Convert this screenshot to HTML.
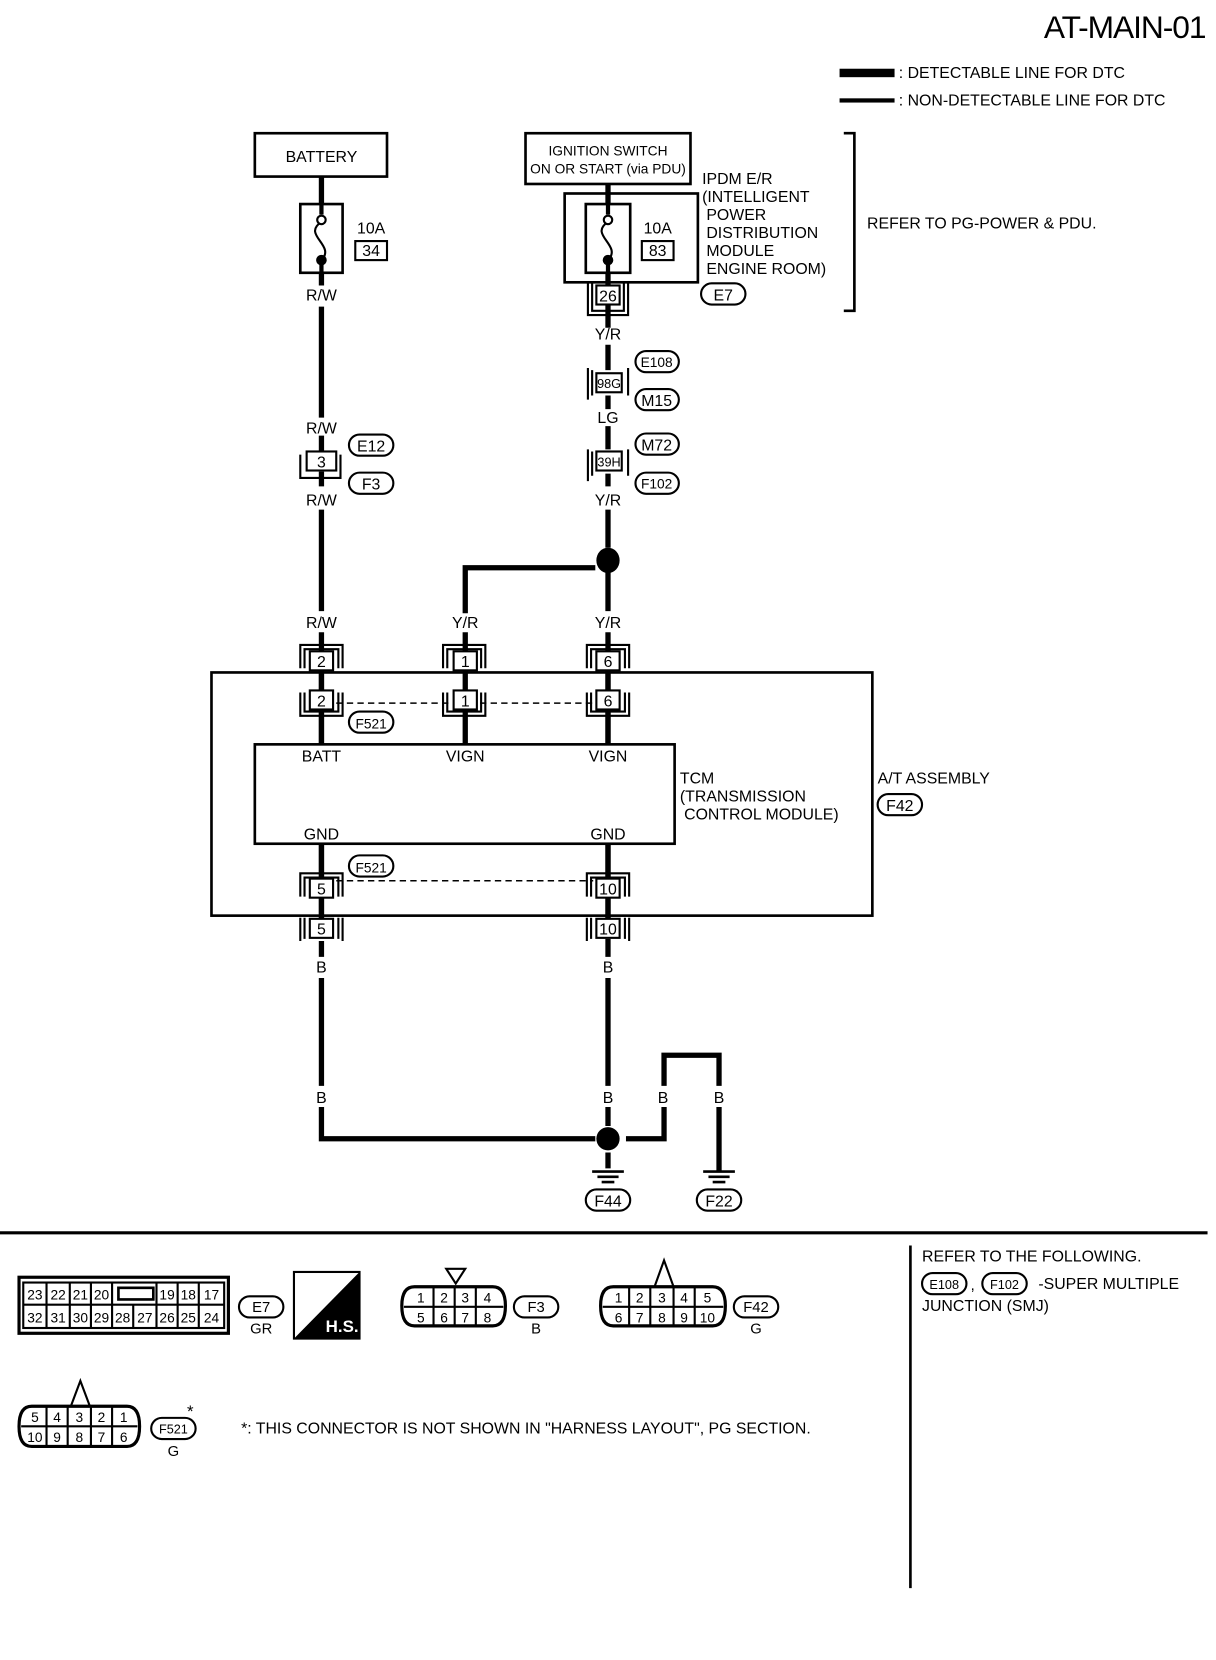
<!DOCTYPE html>
<html><head><meta charset="utf-8"><style>
html,body{margin:0;padding:0;background:#fff;}
svg{display:block;}
text{font-family:"Liberation Sans",sans-serif;fill:#000;}
</style></head><body>
<svg width="1216" height="1660" viewBox="0 0 1150 1570" preserveAspectRatio="none" xmlns="http://www.w3.org/2000/svg">
<rect width="1150" height="1570" fill="#fff"/>
<text x="1140" y="36" font-size="30" text-anchor="end" letter-spacing="-1">AT-MAIN-01</text>
<rect x="794" y="65" width="52" height="8" fill="#000"/>
<text x="850" y="74" font-size="15">: DETECTABLE LINE FOR DTC</text>
<rect x="794" y="93" width="52" height="4" fill="#000"/>
<text x="850" y="100" font-size="15">: NON-DETECTABLE LINE FOR DTC</text>

<g fill="none" stroke="#000">
<path d="M304 167V193M304 258V270M304 290V395M304 412V428M304 446V460M304 482V578M304 598V875M304 890V905M304 925V1027M304 1047V1077H563M592 1077H628V1047M628 1027V998H680V1027M680 1047V1108M575 1065V1047M575 925V1027M575 888V905M575 598V875M575 540V578M575 482V518M440 580V537H563M575 268V310M575 326V350M575 374V387M575 403V425M575 448V460M575 1090V1105" stroke-width="5"/>
<path d="M575 174V193M575 258V268M304 618V708M440 598V708M575 618V708M304 798V870M575 798V870" stroke-width="5"/>
<rect x="241" y="126" width="125" height="41" stroke-width="2.5"/>
<rect x="497" y="126" width="156" height="48" stroke-width="2.5"/>
<rect x="534" y="183" width="126" height="84" stroke-width="2.5"/>
<rect x="284" y="193" width="40" height="65" stroke-width="2.5" fill="#fff"/>
<rect x="554" y="193" width="42" height="65" stroke-width="2.5" fill="#fff"/>
<rect x="336" y="228" width="30" height="18" stroke-width="2"/>
<rect x="607" y="228" width="30" height="18" stroke-width="2"/>
<path d="M798 126H808V294H798" stroke-width="2.5"/>
<rect x="200" y="636" width="625" height="230" stroke-width="2.5"/>
<rect x="241" y="704" width="397" height="94" stroke-width="2.5" fill="#fff"/>
<path d="M304 193V203M304 248V258M575 193V203M575 248V258" stroke-width="4"/>
<path d="M304 210C285 222 318 232 304 246M575 210C556 222 589 232 575 246" stroke-width="2"/>
<path d="M318 665H426M454 665H561M318 833H561" stroke-width="1.5" stroke-dasharray="6,4"/>
<path d="M560 1108H590M565 1113H585M569 1118H581M665 1108H695M670 1113H690M674 1118H686" stroke-width="2.5"/>
<path d="M0 1166H1142" stroke-width="3"/>
<path d="M861 1178V1502" stroke-width="2.5"/>
</g>
<circle cx="304" cy="208" r="4" fill="#fff" stroke="#000" stroke-width="2"/>
<circle cx="304" cy="246" r="5" fill="#000"/>
<circle cx="575" cy="208" r="4" fill="#fff" stroke="#000" stroke-width="2"/>
<circle cx="575" cy="246" r="5" fill="#000"/>
<ellipse cx="575" cy="530" rx="11" ry="12" fill="#000"/>
<ellipse cx="575" cy="1077" rx="11" ry="11" fill="#000"/>

<g stroke="#000" fill="#fff" stroke-width="2">
<path fill="none" d="M560 268V294H590V268M556 268V298H594V268"/>
<rect x="564" y="270" width="22" height="18"/>
<path fill="none" d="M556 348V378M560 350V374M594 348V374"/>
<rect x="564" y="353" width="24" height="18"/>
<path fill="none" d="M556 425V455M560 427V450M594 425V450"/>
<rect x="564" y="427" width="24" height="18"/>
<path fill="none" d="M284 430V452H322V430"/>
<rect x="290" y="427" width="28" height="18"/>
<path fill="none" d="M284 632V610H324V632M288 632V614H320V632M419 632V610H459V632M423 632V614H455V632M555 632V610H595V632M559 632V614H591V632"/>
<rect x="293" y="616" width="22" height="18"/><rect x="429" y="616" width="22" height="18"/><rect x="564" y="616" width="22" height="18"/>
<path fill="none" d="M284 655V677H324V655M288 655V673H320V655M419 655V677H459V655M423 655V673H455V655M555 655V677H595V655M559 655V673H591V655"/>
<rect x="293" y="653" width="22" height="18"/><rect x="429" y="653" width="22" height="18"/><rect x="564" y="653" width="22" height="18"/>
<path fill="none" d="M284 848V826H324V848M288 848V830H320V848M555 848V826H595V848M559 848V830H591V848"/>
<rect x="293" y="831" width="22" height="18"/><rect x="564" y="831" width="22" height="18"/>
<path fill="none" d="M284 868V890M324 868V890M288 868V888M320 868V888M555 868V890M595 868V890M559 868V888M591 868V888"/>
<rect x="293" y="869" width="22" height="18"/><rect x="564" y="869" width="22" height="18"/>
</g>
<g font-size="15" text-anchor="middle">
<text x="575" y="285">26</text><text x="576" y="367" font-size="12">98G</text><text x="576" y="441" font-size="12">39H</text><text x="304" y="442">3</text>
<text x="304" y="631">2</text><text x="440" y="631">1</text><text x="575" y="631">6</text>
<text x="304" y="668">2</text><text x="440" y="668">1</text><text x="575" y="668">6</text>
<text x="304" y="846">5</text><text x="575" y="846">10</text>
<text x="304" y="884">5</text><text x="575" y="884">10</text>
<text x="351" y="242">34</text><text x="622" y="242">83</text>
</g>
<g fill="#fff" stroke="#000" stroke-width="2">
<rect x="663" y="268" width="42" height="20" rx="10"/>
<rect x="601" y="332" width="41" height="20" rx="10"/><rect x="601" y="368" width="41" height="20" rx="10"/>
<rect x="601" y="410" width="41" height="20" rx="10"/><rect x="601" y="447" width="41" height="20" rx="10"/>
<rect x="330" y="411" width="42" height="20" rx="10"/><rect x="330" y="447" width="42" height="20" rx="10"/>
<rect x="330" y="673" width="42" height="20" rx="10"/><rect x="330" y="809" width="42" height="20" rx="10"/>
<rect x="830" y="751" width="42" height="20" rx="10"/>
<rect x="554" y="1125" width="42" height="20" rx="10"/><rect x="659" y="1125" width="42" height="20" rx="10"/>
</g>
<g font-size="15" text-anchor="middle">
<text x="684" y="284">E7</text><text x="621" y="347" font-size="13">E108</text><text x="621" y="384">M15</text>
<text x="621" y="426">M72</text><text x="621" y="462" font-size="13">F102</text>
<text x="351" y="427">E12</text><text x="351" y="463">F3</text>
<text x="351" y="689" font-size="13">F521</text><text x="351" y="825" font-size="13">F521</text>
<text x="851" y="767">F42</text><text x="575" y="1141">F44</text><text x="680" y="1141">F22</text>
</g>
<g font-size="15" text-anchor="middle">
<text x="304" y="153">BATTERY</text>
<text x="575" y="147" font-size="13">IGNITION SWITCH</text>
<text x="575" y="164" font-size="13">ON OR START (via PDU)</text>
<text x="351" y="221">10A</text><text x="622" y="221">10A</text>
<text x="304" y="284">R/W</text><text x="304" y="410">R/W</text><text x="304" y="478">R/W</text><text x="304" y="594">R/W</text>
<text x="575" y="321">Y/R</text><text x="575" y="400">LG</text><text x="575" y="478">Y/R</text>
<text x="440" y="594">Y/R</text><text x="575" y="594">Y/R</text>
<text x="304" y="720">BATT</text><text x="440" y="720">VIGN</text><text x="575" y="720">VIGN</text>
<text x="304" y="794">GND</text><text x="575" y="794">GND</text>
<text x="304" y="920">B</text><text x="575" y="920">B</text>
<text x="304" y="1043">B</text><text x="575" y="1043">B</text><text x="627" y="1043">B</text><text x="680" y="1043">B</text>
</g>
<g font-size="15">
<text x="664" y="174">IPDM E/R</text><text x="664" y="191">(INTELLIGENT</text><text x="668" y="208">POWER</text>
<text x="668" y="225">DISTRIBUTION</text><text x="668" y="242">MODULE</text><text x="668" y="259">ENGINE ROOM)</text>
<text x="820" y="216">REFER TO PG-POWER &amp; PDU.</text>
<text x="643" y="741">TCM</text><text x="643" y="758">(TRANSMISSION</text><text x="647" y="775">CONTROL MODULE)</text>
<text x="830" y="741">A/T ASSEMBLY</text>
<text x="872" y="1193">REFER TO THE FOLLOWING.</text>
<text x="982" y="1219">-SUPER MULTIPLE</text>
<text x="872" y="1240">JUNCTION (SMJ)</text>
<text x="228" y="1356">*: THIS CONNECTOR IS NOT SHOWN IN "HARNESS LAYOUT", PG SECTION.</text>
</g>
<g fill="#fff" stroke="#000" stroke-width="2">
<rect x="872" y="1204" width="42" height="20" rx="10"/><rect x="929" y="1204" width="42" height="20" rx="10"/>
</g>
<text x="893" y="1219" font-size="12" text-anchor="middle">E108</text><text x="950" y="1219" font-size="12" text-anchor="middle">F102</text>
<text x="918" y="1220" font-size="14">,</text>

<g stroke="#000" fill="none" stroke-width="2">
<rect x="18" y="1208" width="198" height="53" stroke-width="3"/>
<rect x="22" y="1213" width="190" height="43"/>
<path d="M22 1234H212M44 1213V1256M66 1213V1256M86 1213V1256M106 1234V1256M126 1234V1256M148 1213V1256M168 1213V1256M188 1213V1256M106 1213V1234"/>
<rect x="112" y="1218" width="33" height="11" stroke-width="2.5"/>
<rect x="226" y="1226" width="42" height="20" rx="10"/>
<rect x="278" y="1203" width="62" height="63"/>
<path d="M392 1217H466Q478 1217 478 1235Q478 1254 466 1254H392Q380 1254 380 1235Q380 1217 392 1217Z" stroke-width="3"/>
<path d="M382 1236H476M410 1217V1254M430 1217V1254M450 1217V1254M422 1200H440L431 1214Z"/>
<rect x="486" y="1226" width="42" height="20" rx="10"/>
<path d="M580 1217H674Q686 1217 686 1235Q686 1254 674 1254H580Q568 1254 568 1235Q568 1217 580 1217Z" stroke-width="3"/>
<path d="M570 1236H684M595 1217V1254M615 1217V1254M637 1217V1254M657 1217V1254M619 1217L628 1192L637 1217"/>
<rect x="694" y="1226" width="42" height="20" rx="10"/>
<path d="M30 1330H120Q132 1330 132 1349Q132 1368 120 1368H30Q18 1368 18 1349Q18 1330 30 1330Z" stroke-width="3"/>
<path d="M20 1349H130M44 1330V1368M64 1330V1368M86 1330V1368M106 1330V1368M67 1330L76 1306L85 1330"/>
<rect x="143" y="1341" width="42" height="20" rx="10"/>
</g>
<path d="M340 1203V1266H278Z" fill="#000"/>
<text x="308" y="1260" font-size="16" font-weight="bold" style="fill:#fff">H.S.</text>
<g font-size="13" text-anchor="middle">
<text x="33" y="1229">23</text><text x="55" y="1229">22</text><text x="76" y="1229">21</text><text x="96" y="1229">20</text>
<text x="158" y="1229">19</text><text x="178" y="1229">18</text><text x="200" y="1229">17</text>
<text x="33" y="1251">32</text><text x="55" y="1251">31</text><text x="76" y="1251">30</text><text x="96" y="1251">29</text><text x="116" y="1251">28</text><text x="137" y="1251">27</text>
<text x="158" y="1251">26</text><text x="178" y="1251">25</text><text x="200" y="1251">24</text>
<text x="398" y="1232">1</text><text x="420" y="1232">2</text><text x="440" y="1232">3</text><text x="461" y="1232">4</text>
<text x="398" y="1251">5</text><text x="420" y="1251">6</text><text x="440" y="1251">7</text><text x="461" y="1251">8</text>
<text x="585" y="1232">1</text><text x="605" y="1232">2</text><text x="626" y="1232">3</text><text x="647" y="1232">4</text><text x="669" y="1232">5</text>
<text x="585" y="1251">6</text><text x="605" y="1251">7</text><text x="626" y="1251">8</text><text x="647" y="1251">9</text><text x="669" y="1251">10</text>
<text x="33" y="1345">5</text><text x="54" y="1345">4</text><text x="75" y="1345">3</text><text x="96" y="1345">2</text><text x="117" y="1345">1</text>
<text x="33" y="1364">10</text><text x="54" y="1364">9</text><text x="75" y="1364">8</text><text x="96" y="1364">7</text><text x="117" y="1364">6</text>
<text x="247" y="1241" font-size="14">E7</text><text x="247" y="1261" font-size="14">GR</text>
<text x="507" y="1241" font-size="14">F3</text><text x="507" y="1261" font-size="14">B</text>
<text x="715" y="1241" font-size="14">F42</text><text x="715" y="1261" font-size="14">G</text>
<text x="164" y="1356" font-size="12">F521</text><text x="164" y="1377" font-size="14">G</text>
<text x="180" y="1340" font-size="16">*</text>
</g>
</svg>
</body></html>
